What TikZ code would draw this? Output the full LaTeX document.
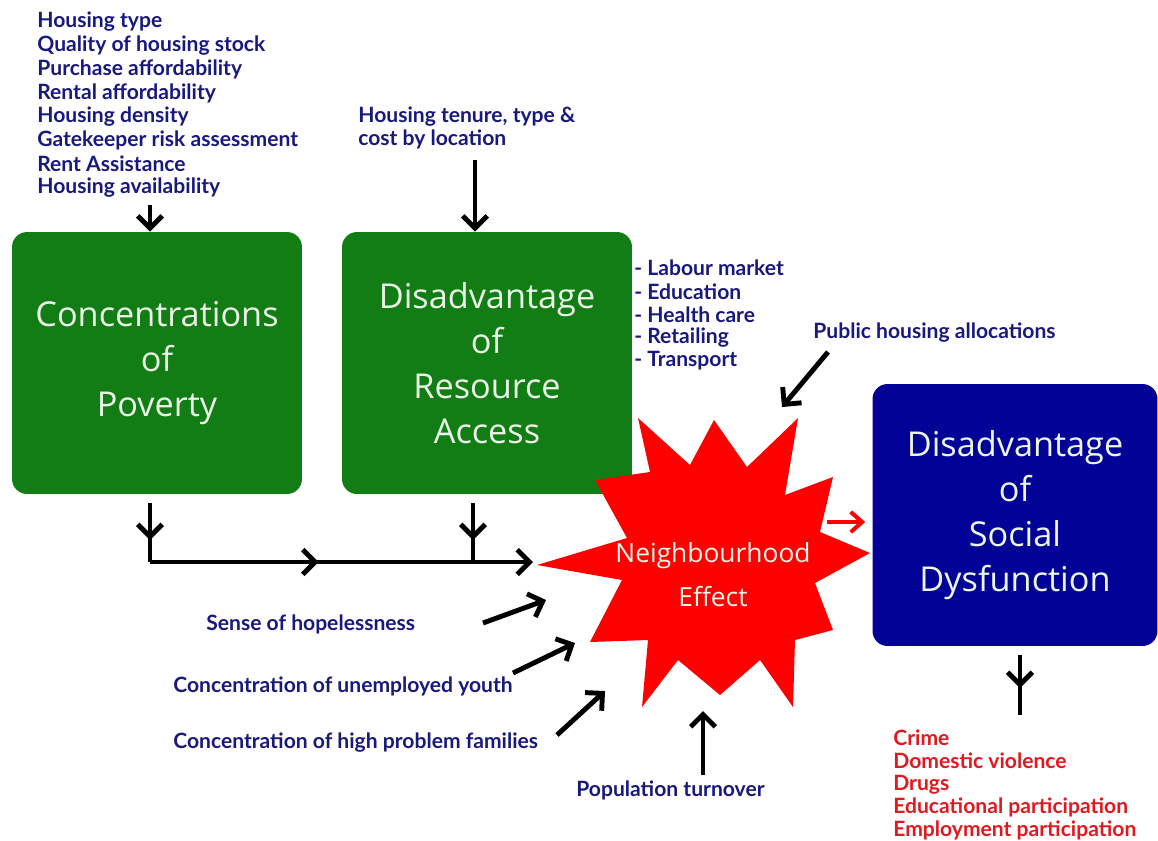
\documentclass[tikz,border=0pt]{standalone}
\usepackage{fontspec}
\setmainfont{Lato}
\newfontfamily\boxfont{Open Sans}
\usetikzlibrary{arrows.meta, decorations.markings, calc}
\definecolor{boxgreen}{RGB}{17,125,20}
\definecolor{boxblue}{RGB}{2,2,150}
\definecolor{navy}{RGB}{25,25,125}
\definecolor{starred}{RGB}{255,0,0}
\definecolor{outred}{RGB}{225,25,30}
\definecolor{pale}{RGB}{236,246,232}
\tikzset{
  bigbox/.style={rectangle, rounded corners=0.3cm, fill=boxgreen, inner sep=0pt,
                 minimum width=5.8cm, minimum height=5.24cm, align=center,
                 text=pale, font=\boxfont\fontsize{19.5}{25.6}\selectfont},
  bursttext/.style={align=center, text=pale, inner sep=0pt,
                    font=\boxfont\fontsize{15}{25}\selectfont},
  lbl/.style={anchor=west, inner sep=0pt, text=navy,
              font=\bfseries\fontsize{12}{13.5}\selectfont},
  conn/.style={line width=2.8pt},
  arr/.style={conn, -{Straight Barb[length=7pt,width=14pt]}},
  redarr/.style={line width=2.3pt, color=starred, -{Straight Barb[length=6.5pt,width=11.5pt]}},
  midarr/.style={postaction={decorate}, decoration={markings,
                 mark=at position #1 with {\arrow{Straight Barb[length=7pt,width=14pt]}}}},
}

\begin{document}
\begin{tikzpicture}[x=0.02cm, y=-0.02cm]
  \useasboundingbox (0,0) rectangle (1158,840);

  % housing inputs
  \foreach \i/\t in {0/Housing type, 1/Quality of housing stock, 2/Purchase affordability,
                     3/Rental affordability, 4/Housing density, 5/Gatekeeper risk assessment,
                     6/Rent Assistance, 7/Housing availability}{
    \node[lbl] (hin\i) at (37,{22+23.7*\i}) {\t};
  }
  \node[lbl, align=left] (ten) at (358,128) {Housing tenure, type \&\\cost by location};

  % boxes
  \node[bigbox] (pov) at (157,363) {Concentrations\\of\\Poverty};
  \node[bigbox] (res) at (487,363) {Disadvantage\\of\\Resource\\Access};
  \node[bigbox, fill=boxblue, minimum width=5.7cm] (dsd) at (1015,515)
    {Disadvantage\\of\\Social\\Dysfunction};

  \foreach \i/\t in {0/Labour market, 1/Education, 2/Health care, 3/Retailing, 4/Transport}{
    \node[lbl] (acc\i) at (634,{268+23.25*\i}) {- \t};
  }

  % neighbourhood effect burst
  \fill[starred] (537,565) -- (627,538) -- (595,480) -- (650,472) -- (638,418)
    -- (690,465) -- (714,420) -- (747,467) -- (798,418) -- (785,495) -- (833,477)
    -- (820,532) -- (870,553) -- (815,583) -- (833,630) -- (795,640) -- (793,707)
    -- (760,660) -- (720,695) -- (678,660) -- (642,707) -- (648,640) -- (590,642)
    -- (622,580) -- cycle;
  \node[bursttext] (nbh) at (713,575) {Neighbourhood\\Effect};

  % influences
  \node[lbl] (pub) at (813,333) {Public housing allocations};
  \node[lbl] (hope) at (206,624) {Sense of hopelessness};
  \node[lbl] (youth) at (173,686) {Concentration of unemployed youth};
  \node[lbl] (fam) at (173,743) {Concentration of high problem families};
  \node[lbl] (pop) at (576,790) {Population turnover};

  \foreach \i/\t in {0/Crime, 1/Domestic violence, 2/Drugs, 3/Educational participation,
                     4/Employment participation}{
    \node[lbl, text=outred] (out\i) at (893,{738+23.2*\i}) {\t};
  }

  % arrows
  \coordinate (hinA) at (150,205);
  \coordinate (tenA) at (475,160);
  \draw[arr] (hinA) -- (hinA |- pov.north);
  \draw[arr] (tenA) -- (tenA |- res.north);

  \coordinate (ps) at (150,503);
  \coordinate (pj) at (150,562);
  \coordinate (rs) at (473,503);
  \coordinate (rj) at (473,562);
  \coordinate (se) at (533,562);
  \draw[conn, midarr=0.63] (ps) -- (pj);
  \draw[conn, midarr=0.63] (rs) -- (rj);
  \draw[arr, midarr=0.44, line join=miter] (pj) -- (se);

  \coordinate (pubA) at (828,352);  \coordinate (pubB) at (782,407);
  \coordinate (hopeA) at (483,623); \coordinate (hopeB) at (546,600);
  \coordinate (youA) at (513,673);  \coordinate (youB) at (575,643);
  \coordinate (famA) at (557,735);  \coordinate (famB) at (605,691);
  \coordinate (popA) at (703,775);  \coordinate (popB) at (703,711);
  \draw[arr] (pubA) -- (pubB);
  \draw[arr] (hopeA) -- (hopeB);
  \draw[arr] (youA) -- (youB);
  \draw[arr] (famA) -- (famB);
  \draw[arr] (popA) -- (popB);

  \coordinate (rA) at (827,522);
  \draw[redarr] (rA) -- ([xshift=-0.14cm]rA -| dsd.west);

  \coordinate (oA) at (1020,655);
  \coordinate (oB) at (1020,715);
  \draw[conn, midarr=0.55] (oA) -- (oB);
\end{tikzpicture}
\end{document}
